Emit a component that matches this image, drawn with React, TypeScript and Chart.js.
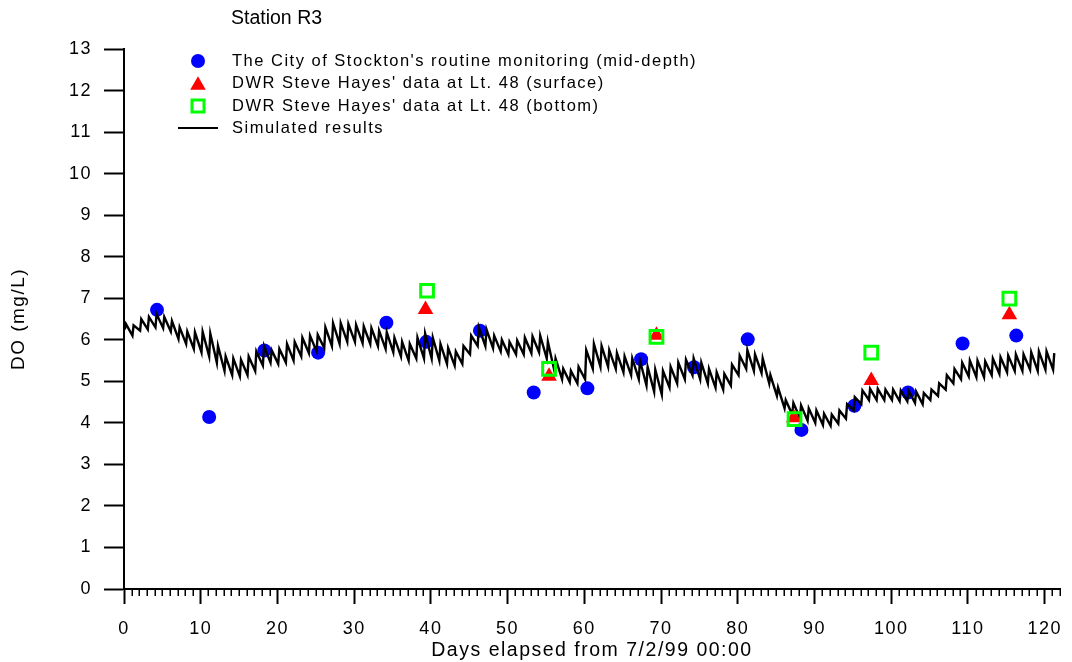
import { useEffect, useRef } from 'react';
import { Chart, registerables } from 'chart.js';

Chart.register(...registerables);

const FONT = '"Liberation Sans", Arial, Helvetica, sans-serif';

// City of Stockton routine monitoring (mid-depth)
const CITY_DAYS = [4.3, 11.1, 18.3, 25.3, 34.2, 39.4, 46.4, 53.4, 60.4, 67.4, 74.3, 81.3, 88.3, 95.2, 102.2, 109.3, 116.3];
const CITY_DO = [6.72, 4.14, 5.74, 5.69, 6.41, 5.95, 6.22, 4.73, 4.83, 5.53, 5.34, 6.01, 3.83, 4.41, 4.73, 5.91, 6.1];

// DWR Steve Hayes, Lt. 48 surface
const SURFACE_DAYS = [39.3, 55.4, 69.4, 87.3, 97.4, 115.4];
const SURFACE_DO = [6.73, 5.12, 6.11, 4.12, 5.02, 6.6];

// DWR Steve Hayes, Lt. 48 bottom
const BOTTOM_DAYS = [39.5, 55.4, 69.4, 87.4, 97.4, 115.4];
const BOTTOM_DO = [7.18, 5.3, 6.07, 4.09, 5.69, 6.99];

// Simulated DO: daily low and daily high, day 0 .. 121
const SIM_LOW = [
  6.25, 6.1, 6.22, 6.25, 6.3, 6.28, 6.2, 6.02, 5.9, 5.78,
  5.7, 5.6, 5.45, 5.25, 5.15, 5.12, 5.15, 5.25, 5.38, 5.45,
  5.42, 5.45, 5.5, 5.6, 5.68, 5.72, 5.8, 5.85, 5.9, 5.95,
  5.95, 5.92, 5.9, 5.85, 5.78, 5.7, 5.6, 5.5, 5.55, 5.55,
  5.55, 5.5, 5.42, 5.38, 5.42, 5.65, 5.85, 5.85, 5.8, 5.72,
  5.65, 5.65, 5.65, 5.68, 5.7, 5.55, 5.25, 5.05, 4.98, 4.95,
  5.05, 5.3, 5.35, 5.35, 5.3, 5.22, 5.15, 5.05, 4.9, 4.75,
  4.68, 4.85, 4.95, 5.05, 5.15, 5.05, 4.95, 4.85, 4.8, 4.9,
  5.15, 5.3, 5.25, 5.2, 4.95, 4.65, 4.35, 4.2, 4.12, 4.05,
  4.0, 3.95, 3.93, 3.98, 4.1, 4.3, 4.45, 4.55, 4.55, 4.55,
  4.55, 4.52, 4.52, 4.48, 4.45, 4.55, 4.65, 4.8, 4.95, 5.05,
  5.12, 5.1, 5.1, 5.15, 5.18, 5.22, 5.25, 5.25, 5.28, 5.25,
  5.28, 5.28,
];
const SIM_HIGH = [
  6.38, 6.35, 6.5, 6.55, 6.62, 6.55, 6.45, 6.3, 6.2, 6.18,
  6.19, 6.15, 5.85, 5.6, 5.55, 5.52, 5.6, 5.72, 5.85, 5.75,
  5.78, 5.9, 5.95, 6.05, 6.1, 6.12, 6.3, 6.4, 6.4, 6.38,
  6.36, 6.32, 6.28, 6.22, 6.18, 6.05, 5.95, 5.9, 6.05, 6.15,
  6.05, 5.9, 5.8, 5.72, 5.85, 6.1, 6.3, 6.25, 6.1, 6.0,
  5.95, 5.98, 6.05, 6.08, 6.1, 5.95, 5.55, 5.3, 5.25, 5.35,
  5.75, 5.9, 5.85, 5.75, 5.68, 5.6, 5.55, 5.5, 5.35, 5.28,
  5.25, 5.35, 5.45, 5.52, 5.55, 5.45, 5.3, 5.22, 5.18, 5.4,
  5.62, 5.75, 5.65, 5.55, 5.15, 4.85, 4.55, 4.48, 4.42, 4.35,
  4.3, 4.22, 4.2, 4.3, 4.45, 4.62, 4.78, 4.82, 4.82, 4.8,
  4.8, 4.78, 4.78, 4.75, 4.72, 4.8, 4.95, 5.15, 5.3, 5.45,
  5.5, 5.5, 5.48, 5.55, 5.58, 5.62, 5.65, 5.65, 5.7, 5.72,
  5.72, 5.68,
];

const X_TICKS = [0, 10, 20, 30, 40, 50, 60, 70, 80, 90, 100, 110, 120];
const Y_TICKS = [0, 1, 2, 3, 4, 5, 6, 7, 8, 9, 10, 11, 12, 13];

const TITLE = 'Station R3';
const LEGEND_LABELS = [
  "The City of Stockton's routine monitoring (mid-depth)",
  "DWR Steve Hayes' data at Lt. 48 (surface)",
  "DWR Steve Hayes' data at Lt. 48 (bottom)",
  'Simulated results',
];

const BLUE = '#0000ff';
const RED = '#ff0000';
const GREEN = '#00ff00';

// Minor day ticks, the station title and the in-plot legend
const decorations = {
  id: 'decorations',
  beforeDraw(chart: any) {
    chart.ctx.letterSpacing = '1.5px';
  },
  afterDraw(chart: any) {
    const { ctx, scales } = chart;
    const xs = scales.x;
    ctx.save();
    ctx.strokeStyle = '#000';
    ctx.lineWidth = 1.5;
    for (let d = Math.ceil(xs.min); d <= xs.max; d++) {
      if (d % 10 === 0) continue;
      const px = Math.round(xs.getPixelForValue(d)) + 0.25;
      ctx.beginPath();
      ctx.moveTo(px, xs.top);
      ctx.lineTo(px, xs.top + 7);
      ctx.stroke();
    }

    ctx.fillStyle = '#000';
    ctx.textBaseline = 'middle';
    ctx.textAlign = 'left';
    ctx.letterSpacing = '0px';
    ctx.font = `19.5px ${FONT}`;
    ctx.fillText(TITLE, 231, 19);

    const sx = 198;
    const tx = 232;
    const rows = [61, 83, 106, 128];
    ctx.letterSpacing = '1.5px';
    ctx.font = `16.5px ${FONT}`;
    LEGEND_LABELS.forEach((t, i) => ctx.fillText(t, tx, rows[i]));

    // symbols
    ctx.fillStyle = BLUE;
    ctx.beginPath();
    ctx.arc(sx, rows[0], 7, 0, Math.PI * 2);
    ctx.fill();

    const r = 9;
    ctx.fillStyle = RED;
    ctx.beginPath();
    ctx.moveTo(sx, rows[1] - r * 0.75);
    ctx.lineTo(sx + (r * Math.sqrt(3)) / 2, rows[1] + r * 0.75);
    ctx.lineTo(sx - (r * Math.sqrt(3)) / 2, rows[1] + r * 0.75);
    ctx.closePath();
    ctx.fill();

    ctx.strokeStyle = GREEN;
    ctx.lineWidth = 3;
    ctx.strokeRect(sx - 6, rows[2] - 6, 12, 12);

    ctx.strokeStyle = '#000';
    ctx.lineWidth = 2;
    ctx.beginPath();
    ctx.moveTo(178, rows[3]);
    ctx.lineTo(218, rows[3]);
    ctx.stroke();
    ctx.restore();
  },
};

export default function App() {
  const canvasRef = useRef<HTMLCanvasElement | null>(null);

  useEffect(() => {
    const canvas = canvasRef.current;
    if (!canvas) return;

    // sawtooth: quick rise to the daily high, slow fall to the next low
    const simPoints = SIM_LOW.flatMap((lo, d) => [
      { x: d + 0.1, y: lo },
      { x: d + 0.25, y: SIM_HIGH[d] },
    ]);

    const chart = new Chart(canvas, {
      type: 'scatter',
      data: {
        datasets: [
          {
            label: LEGEND_LABELS[2],
            data: BOTTOM_DAYS.map((x, i) => ({ x, y: BOTTOM_DO[i] })),
            pointStyle: 'rect',
            pointRadius: 9,
            borderColor: GREEN,
            backgroundColor: 'rgba(0,0,0,0)',
            borderWidth: 3,
            order: 0,
          },
          {
            label: LEGEND_LABELS[1],
            data: SURFACE_DAYS.map((x, i) => ({ x, y: SURFACE_DO[i] })),
            pointStyle: 'triangle',
            pointRadius: 9,
            borderWidth: 0,
            backgroundColor: RED,
            borderColor: RED,
            order: 1,
          },
          {
            label: LEGEND_LABELS[3],
            data: simPoints,
            showLine: true,
            pointRadius: 0,
            borderColor: '#000',
            borderWidth: 2.4,
            order: 2,
          },
          {
            label: LEGEND_LABELS[0],
            data: CITY_DAYS.map((x, i) => ({ x, y: CITY_DO[i] })),
            pointStyle: 'circle',
            pointRadius: 7,
            borderWidth: 0,
            backgroundColor: BLUE,
            borderColor: BLUE,
            order: 3,
          },
        ],
      },
      options: {
        responsive: false,
        animation: false,
        devicePixelRatio: 1,
        events: [],
        layout: { padding: { top: 49, right: 7, left: 0, bottom: 0 } },
        plugins: {
          legend: { display: false },
          tooltip: { enabled: false },
          title: { display: false },
        },
        scales: {
          x: {
            type: 'linear',
            position: 'bottom',
            min: 0,
            max: 122,
            afterBuildTicks: (s: any) => {
              s.ticks = X_TICKS.map((value) => ({ value }));
            },
            afterFit: (s: any) => {
              s.height = 73;
              s.paddingLeft = 0;
              s.paddingRight = 0;
            },
            ticks: {
              color: '#000',
              font: { family: FONT, size: 18 },
              padding: 14,
              maxRotation: 0,
              autoSkip: false,
            },
            grid: {
              drawOnChartArea: false,
              tickLength: 15,
              tickWidth: 2,
              tickColor: '#000',
            },
            border: { display: true, color: '#000', width: 2 },
            title: {
              display: true,
              text: 'Days elapsed from 7/2/99 00:00',
              color: '#000',
              font: { family: FONT, size: 19.5 },
              padding: { top: 0, bottom: 0 },
            },
          },
          y: {
            type: 'linear',
            position: 'left',
            min: 0,
            max: 13,
            afterBuildTicks: (s: any) => {
              s.ticks = Y_TICKS.map((value) => ({ value }));
            },
            afterFit: (s: any) => {
              s.width = 124;
              s.paddingTop = 0;
              s.paddingBottom = 0;
            },
            ticks: {
              color: '#000',
              font: { family: FONT, size: 18 },
              padding: 12,
              autoSkip: false,
            },
            grid: {
              drawOnChartArea: false,
              tickLength: 20,
              tickWidth: 2,
              tickColor: '#000',
            },
            border: { display: true, color: '#000', width: 2 },
            title: {
              display: true,
              text: 'DO (mg/L)',
              color: '#000',
              font: { family: FONT, size: 19 },
              padding: { top: 7, bottom: 0 },
            },
          },
        },
      },
      plugins: [decorations],
    });

    return () => chart.destroy();
  }, []);

  return (
    <div style={{ position: 'fixed', left: 0, top: 0, width: 1072, height: 662, background: '#fff' }}>
      <canvas ref={canvasRef} width={1072} height={662} style={{ display: 'block' }} />
    </div>
  );
}
